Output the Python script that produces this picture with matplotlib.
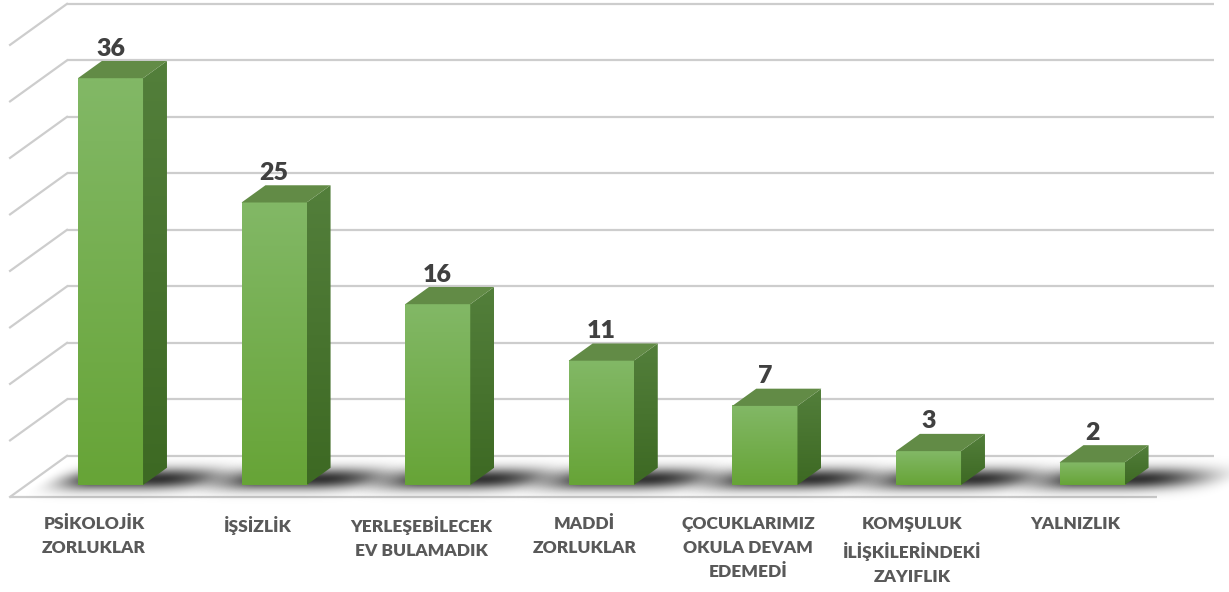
import numpy as np
import matplotlib.pyplot as plt
from matplotlib.patches import Polygon
from matplotlib.colors import to_rgb

categories = ["PSİKOLOJİK\nZORLUKLAR", "İŞSİZLİK", "YERLEŞEBİLECEK\nEV BULAMADIK",
              "MADDİ\nZORLUKLAR", "ÇOCUKLARIMIZ\nOKULA DEVAM\nEDEMEDİ",
              "KOMŞULUK\nİLİŞKİLERİNDEKİ\nZAYIFLIK", "YALNIZLIK"]
values = [36, 25, 16, 11, 7, 3, 2]
grid_ticks = list(range(0, 41, 5))

# fake 3d: depth d goes 0 (front of floor) -> 1 (back wall)
DX = 0.348   # x shift (category units) for full depth
DY = 3.63    # y shift (value units) for full depth
D0, D1 = 0.29, 0.71   # bar front / back depth
HALF = 0.199
X_LEFT, X_RIGHT = -0.513, 6.498


def proj(x, v, d):
    return x + (d - D0) * DX, v + (d - D0) * DY


def grad_img(c_top, c_bot, n=64):
    t = np.linspace(1, 0, n)[:, None, None]
    a, b = np.array(to_rgb(c_top)), np.array(to_rgb(c_bot))
    return a * t + b * (1 - t)


def smooth(t):
    t = np.clip(t, 0, 1)
    return t * t * (3 - 2 * t)


fig = plt.figure(figsize=(12.29, 5.92), dpi=100)
ax = fig.add_axes([0, 0, 1, 1])
ax.axis('off')
xlim = (-0.6754, 6.8368)
ylim = (-9.469, 42.92)

grid_col = '#cdcdcd'
for g in grid_ticks:
    x0, y0 = proj(X_LEFT, g, 1)
    x1, y1 = proj(X_RIGHT, g, 1)
    ax.plot([x0, x1], [y0, y1], color=grid_col, lw=1.6, solid_capstyle='butt', zorder=1)
    xa, ya = proj(X_LEFT, g, 0)
    ax.plot([xa, x0], [ya, y0], color=grid_col, lw=1.6, zorder=1)
# front edge of floor
xa, ya = proj(X_LEFT, 0, 0)
xb, yb = proj(X_RIGHT, 0, 0)
ax.plot([xa, xb], [ya, yb], color=grid_col, lw=1.6, solid_capstyle='butt', zorder=1)

for i, v in enumerate(values):
    # soft shadow on the floor
    ex = (i - 0.65, i + 1.1)
    ey = (-1.8, 3.0)
    X, Y = np.meshgrid(np.linspace(*ex, 300), np.linspace(*ey, 120))
    d = Y / DY + D0
    u = X - (d - D0) * DX - i
    a = (smooth((u + 0.48) / 0.38) * smooth((0.9 - u) / 0.65)
         * np.exp(-((d - 0.42) / 0.26) ** 2))
    rgba = np.zeros(X.shape + (4,))
    rgba[..., 3] = 0.8 * a
    ax.imshow(rgba, extent=(*ex, *ey), origin='lower', aspect='auto',
              interpolation='bilinear', zorder=2)

    # front face
    ax.imshow(grad_img('#82b866', '#67a437'), extent=(i - HALF, i + HALF, 0, v),
              aspect='auto', interpolation='bilinear', zorder=4)
    # side face
    p1 = proj(i + HALF, 0, D0)
    p2 = proj(i + HALF, 0, D1)
    p3 = proj(i + HALF, v, D1)
    p4 = proj(i + HALF, v, D0)
    side = Polygon([p1, p2, p3, p4], closed=True, facecolor='none', edgecolor='none')
    ax.add_patch(side)
    im = ax.imshow(grad_img('#537f3b', '#3d6923'), extent=(p1[0], p2[0], 0, p3[1]),
                   aspect='auto', interpolation='bilinear', zorder=4)
    im.set_clip_path(side)
    # top face
    top = [proj(i - HALF, v, D0), proj(i + HALF, v, D0),
           proj(i + HALF, v, D1), proj(i - HALF, v, D1)]
    ax.add_patch(Polygon(top, closed=True, facecolor='#628b46', edgecolor='none', zorder=4))

    # value label
    ax.annotate(str(v), (i, v + (D1 - D0) * DY), xytext=(0, 1), textcoords='offset points',
                ha='center', va='bottom', fontsize=18, fontweight='heavy',
                color='#404040', family='Lato', zorder=5)
    # category label
    lx, ly = proj(i, 0, 0)
    ax.annotate(categories[i], (lx, ly), xytext=(0, -14), textcoords='offset points',
                ha='center', va='top', fontsize=12.5, fontweight='heavy',
                color='#595959', family='Lato', linespacing=1.6, zorder=5)

ax.set_xlim(*xlim)
ax.set_ylim(*ylim)
fig.savefig('out.png', dpi=100)
